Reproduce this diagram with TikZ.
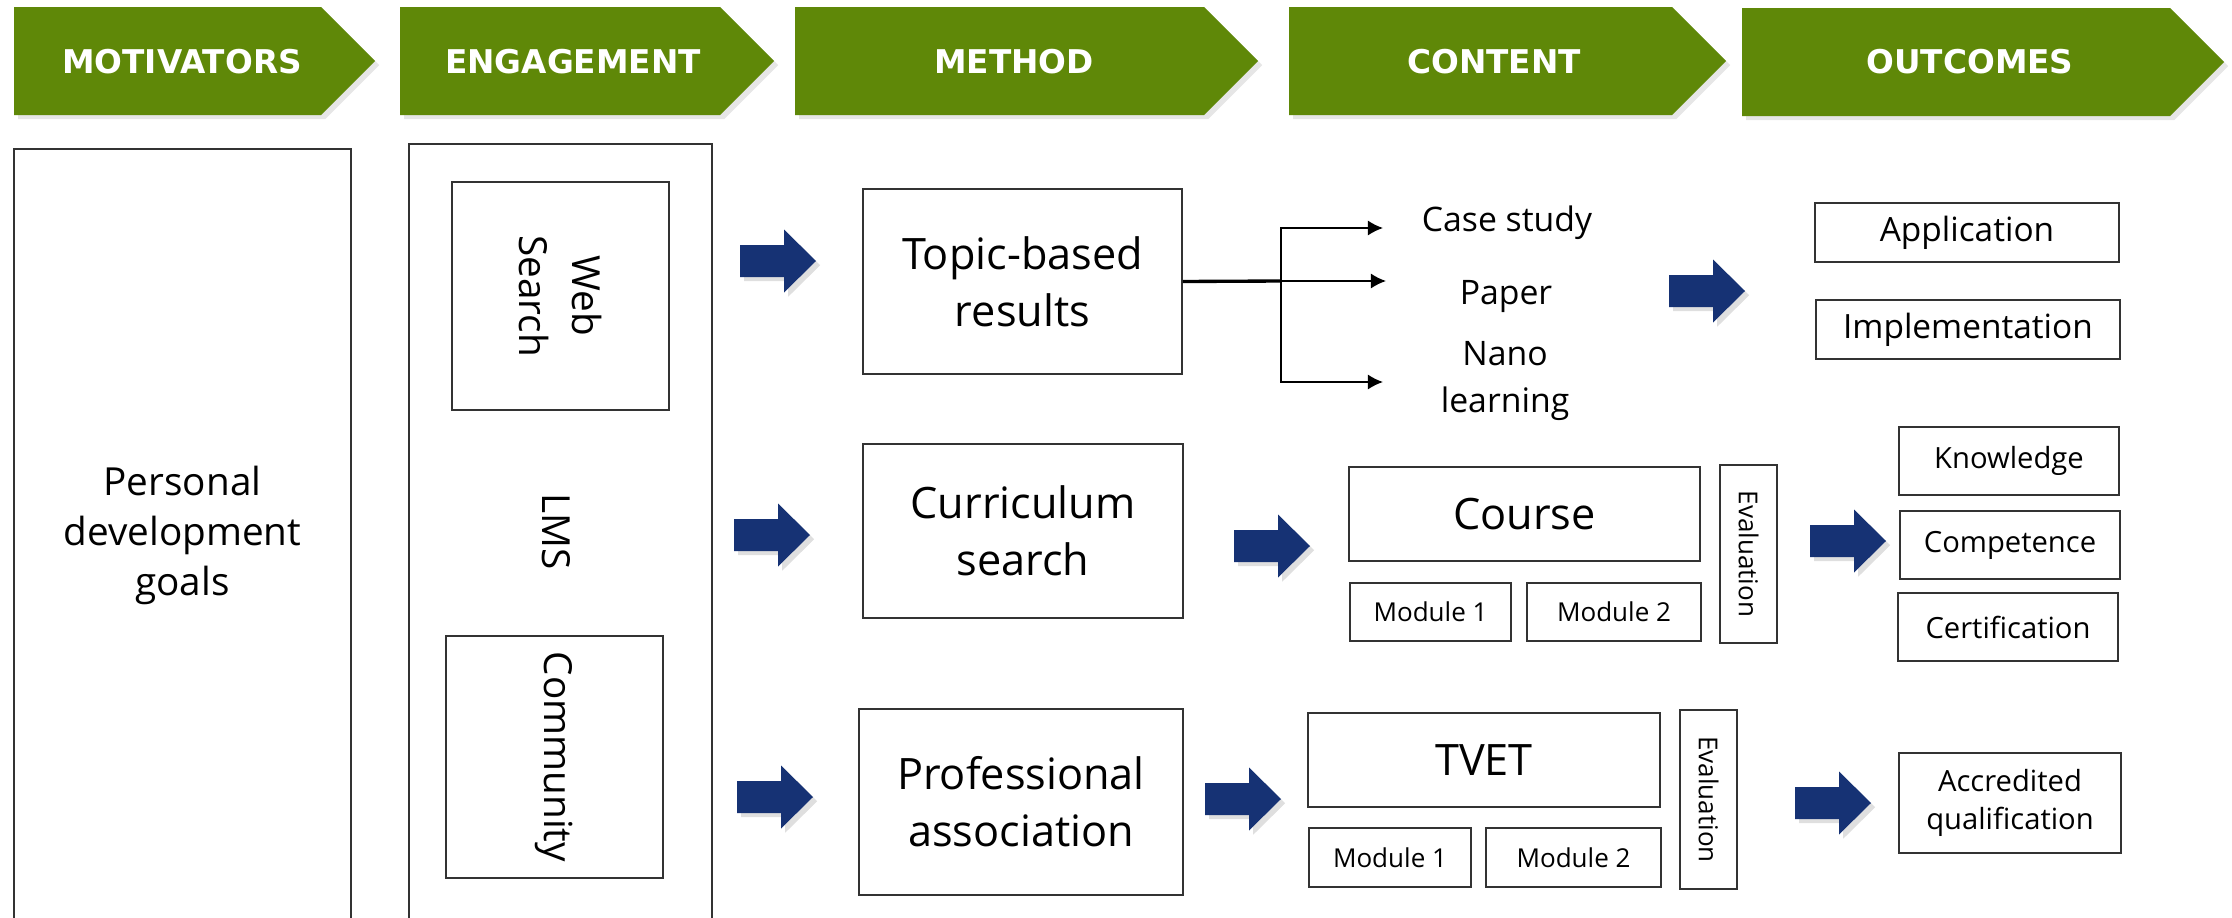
\documentclass[tikz,border=0pt]{standalone}
\usepackage{fontspec}
\setmainfont{Open Sans}
\newfontfamily\headfont{DejaVu Sans}
\usepackage{tikz}
\usetikzlibrary{arrows.meta, shadows}

\definecolor{headgreen}{RGB}{95,136,8}
\definecolor{arrowblue}{RGB}{22,50,116}

\tikzset{
  box/.style={draw=black!80, line width=0.45pt, inner sep=0pt, align=center},
  headtext/.style={text=white, font=\headfont\bfseries\fontsize{9.3}{11}\selectfont},
  headshape/.style={fill=headgreen, drop shadow={shadow xshift=1.2pt, shadow yshift=-1.2pt, opacity=0.2}},
  bigtext/.style={font=\fontsize{12.3}{16.2}\selectfont},
  goaltext/.style={font=\fontsize{11}{14.2}\selectfont},
  engtext/.style={font=\fontsize{11}{14.9}\selectfont},
  contenttext/.style={align=center, font=\fontsize{9.6}{13.3}\selectfont},
  midtext/.style={font=\fontsize{9.5}{12}\selectfont},
  smalltext/.style={font=\fontsize{8.3}{11}\selectfont},
  modtext/.style={font=\fontsize{7.4}{9}\selectfont},
  blockarrow/.pic={\fill[arrowblue, drop shadow={shadow xshift=1.2pt, shadow yshift=-1.2pt, opacity=0.25}]
    (0,-16) -- (44,-16) -- (44,-31.5) -- (76,0) -- (44,31.5) -- (44,16) -- (0,16) -- cycle;}
}

\begin{document}
\begin{tikzpicture}[x=0.01cm, y=-0.01cm]
  \useasboundingbox (0,0) rectangle (2232,918);

  % header
  \fill[headshape] (14,7) -- (321,7) -- (375,61) -- (321,115) -- (14,115) -- cycle;
  \fill[headshape] (400,7) -- (720,7) -- (774,61) -- (720,115) -- (400,115) -- cycle;
  \fill[headshape] (795,7) -- (1204,7) -- (1258,61) -- (1204,115) -- (795,115) -- cycle;
  \fill[headshape] (1289,7) -- (1672,7) -- (1726,61) -- (1672,115) -- (1289,115) -- cycle;
  \fill[headshape] (1742,8) -- (2170,8) -- (2224,62) -- (2170,116) -- (1742,116) -- cycle;
  \node[headtext] (hmotiv) at (182,62) {MOTIVATORS};
  \node[headtext] (hengage) at (573,62) {ENGAGEMENT};
  \node[headtext] (hmethod) at (1014,62) {METHOD};
  \node[headtext] (hcontent) at (1494,62) {CONTENT};
  \node[headtext] (houtcome) at (1970,62) {OUTCOMES};

  % motivators and engagement
  \node[box, goaltext, minimum width=3.37cm, minimum height=7.73cm] (goals) at (182.5,535.5) {Personal\\development\\goals};
  \node[box, minimum width=3.03cm, minimum height=7.76cm] (engage) at (560.5,532) {};
  \node[box, engtext, rotate=-90, minimum width=2.28cm, minimum height=2.17cm] (web) at (560.5,296) {Web\\Search};
  \node[engtext, rotate=-90] (lms) at (556,532) {LMS};
  \node[box, engtext, rotate=-90, minimum width=2.42cm, minimum height=2.17cm] (community) at (554.5,757) {Community};

  % method
  \node[box, bigtext, minimum width=3.19cm, minimum height=1.85cm] (topic) at (1022.5,281.5) {Topic-based\\results};
  \node[box, bigtext, minimum width=3.20cm, minimum height=1.74cm] (curric) at (1023,531) {Curriculum\\search};
  \node[box, bigtext, minimum width=3.24cm, minimum height=1.86cm] (prof) at (1021,802) {Professional\\association};

  % content
  \node[contenttext] (case) at (1507,223) {Case study};
  \node[contenttext] (paper) at (1506,297) {Paper};
  \node[contenttext] (nano) at (1505,381) {Nano\\learning};
  \coordinate (split) at (1281,281);
  \coordinate (tocase) at (1383,228);
  \coordinate (topaper) at (1386,281);
  \coordinate (tonano) at (1383,382);
  \draw[line width=0.95pt] (topic.east) -- (split);
  \draw[line width=0.45pt, -{Latex[length=4.3pt, width=4.3pt]}] (split) |- (tocase);
  \draw[line width=0.45pt, -{Latex[length=4.3pt, width=4.3pt]}] (split) -- (topaper);
  \draw[line width=0.45pt, -{Latex[length=4.3pt, width=4.3pt]}] (split) |- (tonano);

  \node[box, bigtext, minimum width=3.51cm, minimum height=0.94cm] (course) at (1524.5,514) {Course};
  \node[box, modtext, minimum width=1.61cm, minimum height=0.58cm] (cmodone) at (1430.5,612) {Module 1};
  \node[box, modtext, minimum width=1.74cm, minimum height=0.58cm] (cmodtwo) at (1614,612) {Module 2};
  \node[box, modtext, rotate=-90, minimum width=1.78cm, minimum height=0.57cm] (ceval) at (1748.5,554) {Evaluation};

  \node[box, bigtext, minimum width=3.52cm, minimum height=0.94cm] (tvet) at (1484,760) {TVET};
  \node[box, modtext, minimum width=1.62cm, minimum height=0.59cm] (tmodone) at (1390,857.5) {Module 1};
  \node[box, modtext, minimum width=1.75cm, minimum height=0.59cm] (tmodtwo) at (1573.5,857.5) {Module 2};
  \node[box, modtext, rotate=-90, minimum width=1.79cm, minimum height=0.57cm] (teval) at (1708.5,799.5) {Evaluation};

  % outcomes
  \node[box, midtext, minimum width=3.04cm, minimum height=0.59cm] (appl) at (1967,232.5) {Application};
  \node[box, midtext, minimum width=3.04cm, minimum height=0.59cm] (impl) at (1968,329.5) {Implementation};
  \node[box, smalltext, minimum width=2.20cm, minimum height=0.68cm] (know) at (2009,461) {Knowledge};
  \node[box, smalltext, minimum width=2.20cm, minimum height=0.68cm] (comp) at (2010,545) {Competence};
  \node[box, smalltext, minimum width=2.20cm, minimum height=0.68cm] (cert) at (2008,627) {Certification};
  \node[box, smalltext, minimum width=2.22cm, minimum height=1.00cm] (accr) at (2010,803) {Accredited\\qualification};

  % block arrows
  \pic at (740,261) {blockarrow};
  \pic at (734,535) {blockarrow};
  \pic at (737,797) {blockarrow};
  \pic at (1234,546) {blockarrow};
  \pic at (1205,799) {blockarrow};
  \pic at (1669,291) {blockarrow};
  \pic at (1810,541) {blockarrow};
  \pic at (1795,803) {blockarrow};
\end{tikzpicture}
\end{document}
